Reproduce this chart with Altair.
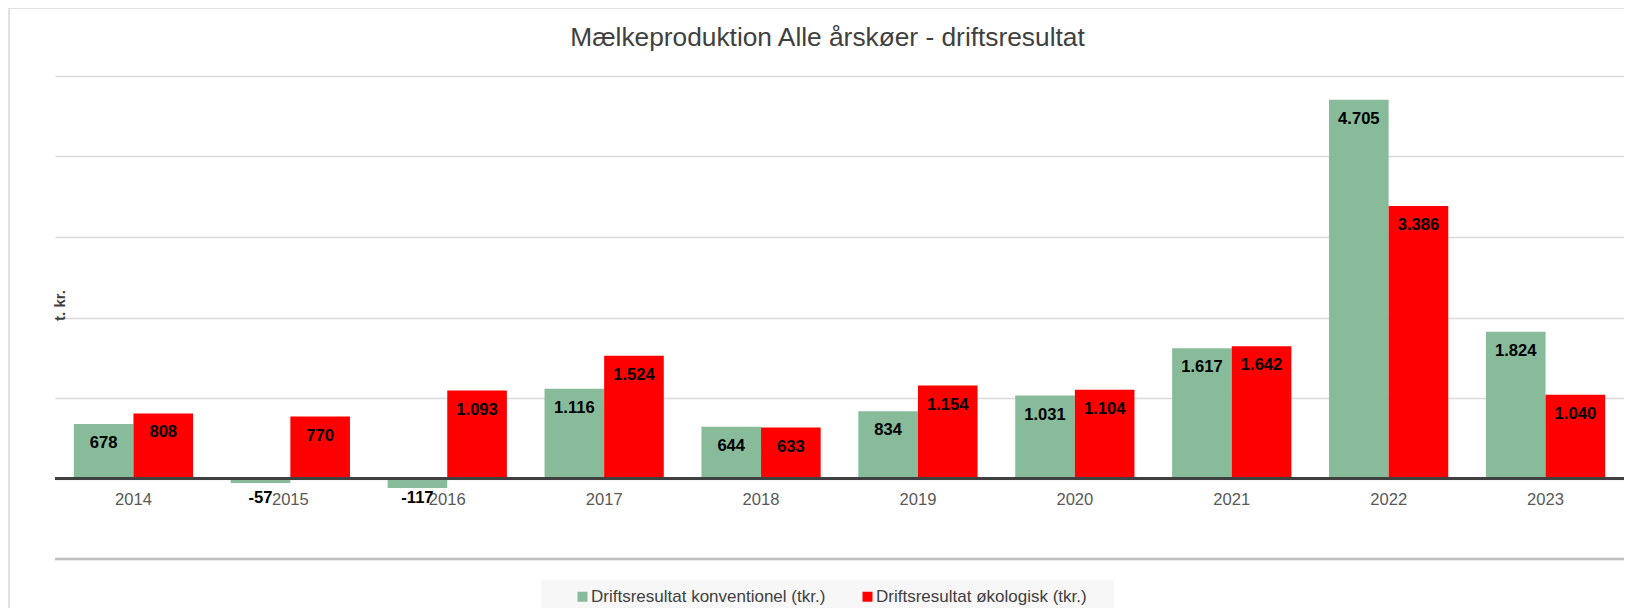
import altair as alt
import pandas as pd

years = ["2014", "2015", "2016", "2017", "2018", "2019", "2020", "2021", "2022", "2023"]
konventionel = [678, -57, -117, 1116, 644, 834, 1031, 1617, 4705, 1824]
okologisk = [808, 770, 1093, 1524, 633, 1154, 1104, 1642, 3386, 1040]
series = ["Driftsresultat konventionel (tkr.)", "Driftsresultat økologisk (tkr.)"]
colors = ["#88BB9A", "#FF0000"]
grid_values = [-1000, 0, 1000, 2000, 3000, 4000, 5000]

rows = []
for i, yr in enumerate(years):
    for s, vals in zip(series, [konventionel, okologisk]):
        v = vals[i]
        rows.append({"year": yr, "series": s, "value": v,
                     "label": f"{v:,}".replace(",", ".")})
df = pd.DataFrame(rows)
one = pd.DataFrame({"k": [0]})

FONT = "Liberation Sans"
W, H = 1569, 483
yscale = alt.Scale(domain=[-1000, 5000], nice=False, zero=False)

x_enc = alt.X("year:N", title=None, sort=years,
              scale=alt.Scale(paddingInner=0.24, paddingOuter=0.12),
              axis=alt.Axis(orient="bottom", offset=-80.5, domain=False, ticks=False,
                            tickSize=0, labelPadding=13, labelFontSize=16.6,
                            labelColor="#595959", labelFont=FONT, labelAngle=0, grid=False))
xo_enc = alt.XOffset("series:N", sort=series)

y_axis = alt.Axis(values=grid_values, labels=False, ticks=False, domain=False,
                  grid=True, gridColor="#d9d9d9", gridWidth=1.5,
                  title="t. kr.", titleX=4, titleY=229, titleAngle=270,
                  titleAlign="center", titleBaseline="middle", titleFont=FONT,
                  titleFontSize=15, titleFontWeight="bold", titleColor="#404040")
y_enc = alt.Y("value:Q", scale=yscale, axis=y_axis, title="t. kr.")

color_enc = alt.Color("series:N", sort=series,
                      scale=alt.Scale(domain=series, range=colors),
                      legend=alt.Legend(orient="none", legendX=519, legendY=512,
                                        direction="horizontal", title=None,
                                        symbolType="square", symbolSize=100,
                                        symbolStrokeWidth=0, labelFont=FONT,
                                        labelFontSize=17, labelColor="#404040",
                                        labelOffset=0, columnPadding=33, padding=0,
                                        labelLimit=400))

frame_left = alt.Chart(one).mark_rule(color="#d9d9d9", strokeWidth=1.5).encode(
    x=alt.value(-46), y=alt.value(-68), y2=alt.value(H + 80))
frame_top = alt.Chart(one).mark_rule(color="#d9d9d9", strokeWidth=1.5).encode(
    x=alt.value(-46), x2=alt.value(W + 20), y=alt.value(-68))
legend_bg = alt.Chart(one).mark_rect(color="#f7f7f7").encode(
    x=alt.value(486), x2=alt.value(1059), y=alt.value(504), y2=alt.value(560))

bars = alt.Chart(df).mark_bar().encode(x=x_enc, xOffset=xo_enc, y=y_enc, color=color_enc)

zero_rule = alt.Chart(one).mark_rule(color="#404040", strokeWidth=3).encode(
    y=alt.Y(datum=0, type="quantitative", scale=yscale, axis=y_axis, title="t. kr."))
bottom_rule = alt.Chart(one).mark_rule(color="#bfbfbf", strokeWidth=2.5).encode(
    y=alt.Y(datum=-1000, type="quantitative", scale=yscale, axis=y_axis, title="t. kr."))

labels = alt.Chart(df).transform_calculate(ly="max(datum.value, 0)").mark_text(
    baseline="middle", dy=19, font=FONT, fontSize=16.6, fontWeight="bold", color="#000000"
).encode(x=x_enc, xOffset=xo_enc,
         y=alt.Y("ly:Q", scale=yscale, axis=y_axis, title="t. kr."),
         text="label:N")

chart = alt.layer(bars, bottom_rule, zero_rule, labels, frame_left, frame_top, legend_bg).properties(
    width=W, height=H,
    title=alt.Title("Mælkeproduktion Alle årskøer - driftsresultat", font=FONT,
                    fontSize=26.3, fontWeight="normal", color="#404040",
                    anchor="middle", dx=-12, offset=-44),
    padding={"left": 47, "top": 68, "right": 0, "bottom": 49},
    autosize=alt.AutoSizeParams(type="none"),
).configure_view(stroke=None)

chart.save("out.html", embed_options={"renderer": "svg", "actions": False})
